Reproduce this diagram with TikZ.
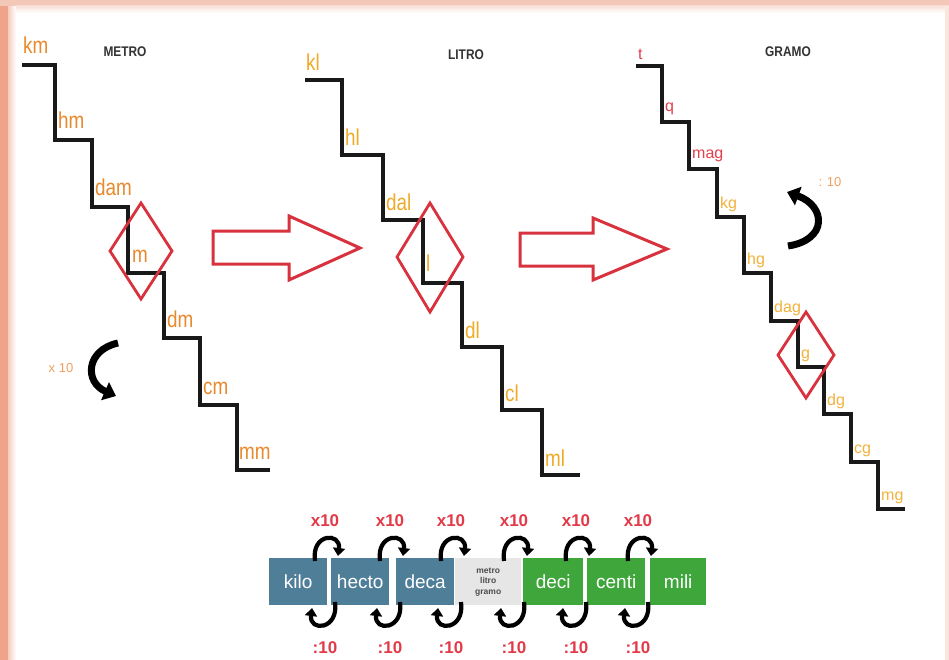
\documentclass[tikz,border=0pt]{standalone}
\usepackage{fontspec}
\setmainfont{Liberation Sans}
\newfontfamily\labfont[FakeStretch=0.82]{Liberation Sans}
\newfontfamily\titfont[FakeStretch=0.85]{Liberation Sans}
\usetikzlibrary{arrows.meta}

\definecolor{frameL}{HTML}{EFA38A}
\definecolor{frameT}{HTML}{F4C8B8}
\definecolor{redline}{HTML}{D8323E}
\definecolor{metroor}{HTML}{E8892C}
\definecolor{litrogold}{HTML}{EFAA26}
\definecolor{gramored}{HTML}{E0404C}
\definecolor{gramogold}{HTML}{F2B23C}
\definecolor{boxblue}{HTML}{4F7E99}
\definecolor{boxgreen}{HTML}{3EA63A}
\definecolor{boxgrey}{HTML}{E6E6E6}
\definecolor{mulred}{HTML}{E23A48}
\definecolor{softor}{HTML}{F0A060}

\begin{document}
\begin{tikzpicture}[x=1pt,y=-1pt,
  stairs/.style={line width=3.4pt, black!90, line join=miter},
  lozenge/.style={draw=redline, line width=2.8pt, line join=miter},
  hollowarrow/.style={draw=redline, line width=3pt, fill=white, line join=miter},
  unittitle/.style={font=\titfont\bfseries\fontsize{14}{14}\selectfont, text=black!80, inner sep=0pt},
  mlab/.style={font=\labfont\fontsize{23}{23}\selectfont, text=metroor, anchor=base west, inner sep=0pt},
  llab/.style={font=\labfont\fontsize{23}{23}\selectfont, text=litrogold, anchor=base west, inner sep=0pt},
  glab/.style={font=\fontsize{16}{16}\selectfont, text=gramogold, anchor=base west, inner sep=0pt},
  prefbox/.style={text=white, font=\fontsize{19}{19}\selectfont, minimum height=47pt, inner sep=0pt, anchor=north west},
  factorlab/.style={text=mulred, font=\bfseries\fontsize{17}{17}\selectfont, inner sep=0pt},
  curlarrow/.style={line width=4.2pt, -{Triangle[length=8pt,width=12pt]}},
  bigcurl/.style={line width=7pt, -{Triangle[length=12pt,width=19pt]}},
]
\useasboundingbox (0,0) rectangle (949,660);

% page frame
\fill[white] (0,0) rectangle (949,660);
\fill[frameL] (0,0) rectangle (8,660);
\shade[left color=frameL!55, right color=white] (8,0) rectangle (16,660);
\fill[frameT] (0,0) rectangle (949,6);
\shade[top color=frameT!55, bottom color=white] (16,6) rectangle (949,13);
\fill[frameT!45] (945,6) rectangle (949,660);

% ---------- METRO ----------
\node[unittitle] (tmetro) at (125,52) {METRO};
\draw[stairs] (22,65) -| (55,140) -| (92,207) -| (128,273) -| (164,338)
  -| (200,405) -| (237,470) -- (270,470);
\node[mlab] (km)  at (23,54)  {km};
\node[mlab] (hm)  at (58,129) {hm};
\node[mlab] (dam) at (95,196) {dam};
\node[mlab] (m)   at (132,262) {m};
\node[mlab] (dm)  at (167,327) {dm};
\node[mlab] (cm)  at (203,394) {cm};
\node[mlab] (mm)  at (239,459) {mm};
\draw[lozenge] (141,203) -- (172,251) -- (141,299) -- (110,251) -- cycle;
\node[text=softor, font=\fontsize{13}{13}\selectfont, inner sep=0pt] (xten) at (61,368) {x 10};
\coordinate (mt1) at (118,343);
\coordinate (mt2) at (116,396);
\draw[bigcurl] (mt1) .. controls (86,350) and (84,382) .. (mt2);

\draw[hollowarrow] (213,231) -- (289,231) -- (289,216) -- (360,248)
  -- (289,280) -- (289,264) -- (213,264) -- cycle;

% ---------- LITRO ----------
\node[unittitle] (tlitro) at (466,55) {LITRO};
\draw[stairs] (305,80) -| (342,155) -| (383,220) -| (423,283) -| (462,347)
  -| (502,410) -| (542,475) -- (580,475);
\node[llab] (kl)  at (306,71)  {kl};
\node[llab] (hl)  at (345,146) {hl};
\node[llab] (dal) at (386,211) {dal};
\node[llab] (l)   at (426,271) {l};
\node[llab] (dl)  at (465,338) {dl};
\node[llab] (cl)  at (505,401) {cl};
\node[llab] (ml)  at (545,466) {ml};
\draw[lozenge] (430,203) -- (463,257) -- (430,312) -- (397,257) -- cycle;

\draw[hollowarrow] (520,233) -- (593,233) -- (593,218) -- (667,249)
  -- (593,280) -- (593,266) -- (520,266) -- cycle;

% ---------- GRAMO ----------
\node[unittitle] (tgramo) at (788,52) {GRAMO};
\draw[stairs] (636,66) -| (662,122) -| (689,169) -| (717,217) -| (744,273)
  -| (771,321) -| (798,367) -| (824,414) -| (851,462) -| (878,509) -- (905,509);
\node[glab, text=gramored] (t)   at (638,60)  {t};
\node[glab, text=gramored] (q)   at (665,112) {q};
\node[glab, text=gramored] (mag) at (692,159) {mag};
\node[glab] (kg)  at (720,208) {kg};
\node[glab] (hg)  at (747,264) {hg};
\node[glab] (dag) at (774,312) {dag};
\node[glab] (g)   at (801,358) {g};
\node[glab] (dg)  at (827,405) {dg};
\node[glab] (cg)  at (854,453) {cg};
\node[glab] (mg)  at (881,500) {mg};
\draw[lozenge] (806,312) -- (834,355) -- (806,398) -- (778,355) -- cycle;
\node[text=softor, font=\fontsize{13}{13}\selectfont, inner sep=0pt] (dten) at (830,182) {: 10};
\coordinate (gt1) at (788,246);
\coordinate (gt2) at (787,192);
\draw[bigcurl] (gt1) .. controls (828,240) and (826,206) .. (gt2);

% ---------- prefix bar ----------
\node[prefbox, fill=boxblue, minimum width=58pt] (kilo)  at (269,558) {kilo};
\node[prefbox, fill=boxblue, minimum width=58pt] (hecto) at (331,558) {hecto};
\node[prefbox, fill=boxblue, minimum width=58pt] (deca)  at (396,558) {deca};
\node[prefbox, fill=boxgrey, minimum width=66pt, text=black!70, align=center,
  font=\bfseries\fontsize{8.5}{10.5}\selectfont] (unit) at (455,558) {metro\\litro\\gramo};
\node[prefbox, fill=boxgreen, minimum width=60pt] (deci)  at (523,558) {deci};
\node[prefbox, fill=boxgreen, minimum width=58pt] (centi) at (587,558) {centi};
\node[prefbox, fill=boxgreen, minimum width=56pt] (mili)  at (650,558) {mili};

\foreach \i/\a in {1/325,2/390,3/451,4/514,5/576,6/638}{
  \coordinate (u\i s) at (\a-10,561);
  \coordinate (u\i e) at (\a+13,556);
  \draw[curlarrow] (u\i s) .. controls +(-4,-28) and +(3,-24) .. (u\i e);
  \node[factorlab] (mul\i) at (\a,521) {x10};
  \coordinate (d\i s) at (\a+10,602);
  \coordinate (d\i e) at (\a-13,608);
  \draw[curlarrow] (d\i s) .. controls +(4,28) and +(-3,24) .. (d\i e);
  \node[factorlab] (div\i) at (\a,648) {:10};
}
\end{tikzpicture}
\end{document}
